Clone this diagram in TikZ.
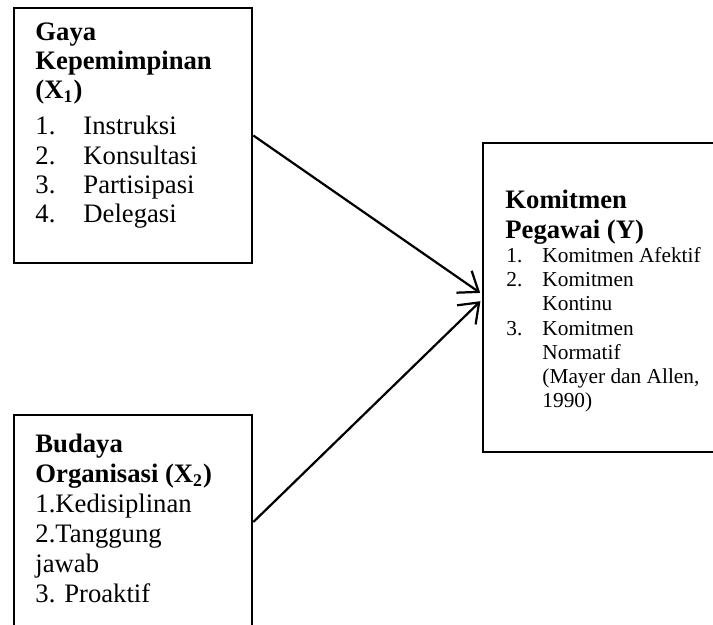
\documentclass[tikz,border=0pt]{standalone}
\usepackage{fontspec}
\setmainfont{Liberation Serif}
\usepackage{tikz}
\usetikzlibrary{arrows.meta,positioning}
\tikzset{>={Straight Barb[length=8pt,width=12pt,line width=1pt]}}
\tikzset{
    varbox/.style={rectangle,draw,line width=1.2pt,inner sep=0pt},
    boxtext/.style={anchor=north west,inner sep=0pt,align=left,
        font=\fontsize{12}{13.2}\selectfont},
    itemlist/.style={anchor=north west,inner sep=0pt,align=left,
        font=\fontsize{9.6}{10.9}\selectfont},
    link/.style={->,line width=1pt,shorten >=0.8pt},
}
\newcommand{\numA}[1]{\makebox[21.6pt][l]{#1}}
\newcommand{\numB}[1]{\makebox[16.2pt][l]{#1}}

\begin{document}
\begin{tikzpicture}[x=0.45pt,y=-0.45pt]
            \clip (0,0) rectangle (713,624);
            \fill[white] (0,0) rectangle (713,624);
            \node[varbox,minimum width=107.1pt,minimum height=114.75pt] (gaya) at (133,135.5) {};
            \node[varbox,minimum width=107.1pt,minimum height=96.3pt] (budaya) at (133,522) {};
            \node[varbox,minimum width=112.5pt,minimum height=139.05pt] (komit) at (608,297.5) {};
            \node[boxtext] (gayatext) at (35,22) {\textbf{Gaya}\\ \textbf{Kepemimpinan}\\ \textbf{(X\textsubscript{1})}\\[3pt]
                \numA{1.}Instruksi\\ \numA{2.}Konsultasi\\ \numA{3.}Partisipasi\\ \numA{4.}Delegasi};
            \node[boxtext,font=\fontsize{12}{13.5}\selectfont] (budayatext) at (35,434) {\textbf{Budaya}\\ \textbf{Organisasi (X\textsubscript{2})}\\
                1.Kedisiplinan\\ 2.Tanggung\\ jawab\\ 3. Proaktif};
            \node[boxtext,font=\fontsize{12}{13.5}\selectfont] (komittitle) at (505,190) {\textbf{Komitmen}\\ \textbf{Pegawai (Y)}};
            \node[itemlist] (komitlist) at (506,247) {\numB{1.}Komitmen Afektif\\ \numB{2.}Komitmen\\ \numB{}Kontinu\\
                \numB{3.}Komitmen\\ \numB{}Normatif\\ \numB{}(Mayer dan Allen,\\ \numB{}1990)};
            \draw[link] (gaya.east) -- ([yshift=1.6pt]komit.west);
            \draw[link] (budaya.east) -- ([yshift=-1.1pt]komit.west);
        \end{tikzpicture}
\end{document}
